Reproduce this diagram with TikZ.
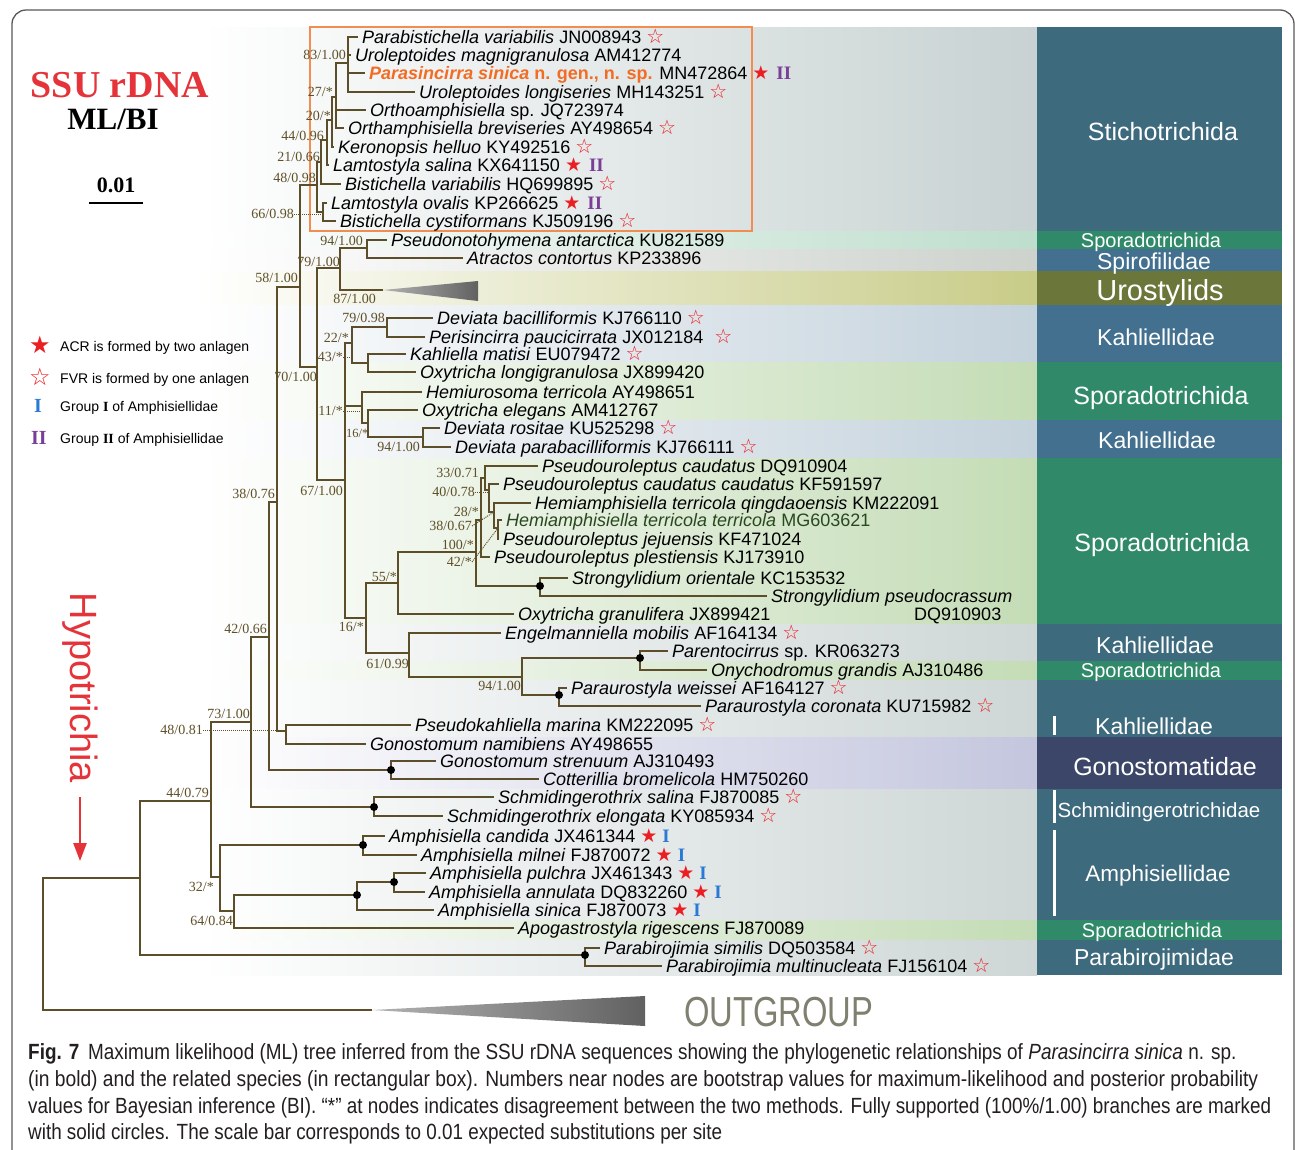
\documentclass[tikz,border=0pt]{standalone}
\usepackage{fontspec}
\setmainfont{Liberation Sans}
\newfontfamily\seriff{Liberation Serif}
\newfontfamily\djv{DejaVu Sans}
\newfontfamily\condf[FakeStretch=0.78]{Liberation Sans}
\usetikzlibrary{arrows.meta}
\definecolor{brc}{RGB}{92,78,40}
\definecolor{supc}{RGB}{95,80,40}
\definecolor{starred}{RGB}{235,30,35}
\definecolor{ssured}{RGB}{228,52,58}
\definecolor{orng}{RGB}{243,108,36}
\definecolor{boxor}{RGB}{242,140,80}
\definecolor{purp}{RGB}{122,62,152}
\definecolor{blu}{RGB}{40,122,212}
\definecolor{hgreen}{RGB}{40,72,30}
\definecolor{bSt}{RGB}{62,106,126}
\definecolor{bSp}{RGB}{48,138,106}
\definecolor{bKa}{RGB}{66,112,142}
\definecolor{bUro}{RGB}{106,118,58}
\definecolor{bGon}{RGB}{60,70,104}
\definecolor{tSt}{RGB}{200,210,210}
\definecolor{tSpS}{RGB}{190,222,205}
\definecolor{tSpi}{RGB}{205,210,205}
\definecolor{tUro}{RGB}{200,204,136}
\definecolor{tKa}{RGB}{196,210,220}
\definecolor{tSpo}{RGB}{196,220,182}
\definecolor{tGon}{RGB}{196,198,222}
\definecolor{tGen}{RGB}{206,214,214}
\definecolor{capc}{RGB}{35,31,32}
\definecolor{ogc}{RGB}{128,128,112}
\newcommand{\hst}{\hspace{5pt}{\djv\fontsize{20}{20}\selectfont\textcolor{starred}{☆}}}
\newcommand{\fst}{\hspace{5pt}{\djv\fontsize{19}{19}\selectfont\textcolor{starred}{★}}}
\newcommand{\gtwo}{\hspace{7pt}{\seriff\bfseries\fontsize{19}{19}\selectfont\textcolor{purp}{II}}}
\newcommand{\gone}{\hspace{5pt}{\seriff\bfseries\fontsize{19}{19}\selectfont\textcolor{blu}{I}}}
\begin{document}
\begin{tikzpicture}[x=1pt,y=-1pt,
  tip/.style={anchor=west, inner sep=0pt, font=\fontsize{18}{20}\selectfont, text height=13pt, text depth=0pt},
  sup/.style={anchor=east, inner sep=0pt, font=\seriff\fontsize{14}{14}\selectfont, text=supc, text height=9pt, text depth=0pt},
  br/.style={draw=brc, line width=1.9pt},
  dotlab/.style={draw=supc, densely dotted, line width=1pt},
  dotn/.style={fill=black, circle, inner sep=0pt, minimum size=8pt},
  pan/.style={anchor=base, inner sep=0pt, text=white},
  leg/.style={anchor=base west, inner sep=0pt, font=\fontsize{14}{14}\selectfont},
  capl/.style={anchor=base west, inner sep=0pt, text=capc, font=\condf\fontsize{22}{22}\selectfont}]
\useasboundingbox (0,0) rectangle (1295,1149);
\fill[white] (0,0) rectangle (1295,1149);
% frame
\draw[line width=1.3pt, black!65, rounded corners=14pt] (12,1175) -- (12,10) -- (1294,10) -- (1294,1175);
% background bands
\foreach \ya/\yb/\c in {27/231/tSt,231/249/tSpS,249/271/tSpi,271/305/tUro,305/362/tKa,362/420/tSpo,420/458/tKa,458/624/tSpo,624/661/tGen,661/680/tSpo,680/737/tGen,737/789/tGon,789/920/tGen,920/940/tSpo,940/975/tGen}
  {\shade[left color=white, right color=\c] (200,\ya) rectangle (1037,\yb);}
\foreach \ya/\yb/\c in {27/231/bSt,231/249/bSp,249/271/bKa,271/305/bUro,305/362/bKa,362/420/bSp,420/458/bKa,458/624/bSp,624/661/bSt,661/680/bSp,680/737/bSt,737/789/bGon,789/920/bSt,920/940/bSp,940/975/bSt}
  {\fill[\c] (1037,\ya) rectangle (1282,\yb);}
\fill[white] (1053,716) rectangle (1056,735);
\fill[white] (1053,790) rectangle (1056,823);
\fill[white] (1053,830) rectangle (1056,916);
% panel labels
\node[pan, font=\fontsize{25}{25}\selectfont] (p1) at (1163,140) {Stichotrichida};
\node[pan, font=\fontsize{20}{20}\selectfont] (p2) at (1151,247) {Sporadotrichida};
\node[pan, font=\fontsize{23}{23}\selectfont] (p3) at (1154,269) {Spirofilidae};
\node[pan, font=\fontsize{29}{29}\selectfont] (p4) at (1160,300) {Urostylids};
\node[pan, font=\fontsize{23}{23}\selectfont] (p5) at (1156,345) {Kahliellidae};
\node[pan, font=\fontsize{25}{25}\selectfont] (p6) at (1161,404) {Sporadotrichida};
\node[pan, font=\fontsize{23}{23}\selectfont] (p7) at (1157,448) {Kahliellidae};
\node[pan, font=\fontsize{25}{25}\selectfont] (p8) at (1162,551) {Sporadotrichida};
\node[pan, font=\fontsize{23}{23}\selectfont] (p9) at (1155,653) {Kahliellidae};
\node[pan, font=\fontsize{20}{20}\selectfont] (p10) at (1151,677) {Sporadotrichida};
\node[pan, font=\fontsize{23}{23}\selectfont] (p11) at (1154,734) {Kahliellidae};
\node[pan, font=\fontsize{25}{25}\selectfont] (p12) at (1165,775) {Gonostomatidae};
\node[pan, font=\fontsize{20.5}{21}\selectfont] (p13) at (1159,817) {Schmidingerotrichidae};
\node[pan, font=\fontsize{22.5}{23}\selectfont] (p14) at (1158,881) {Amphisiellidae};
\node[pan, font=\fontsize{20}{20}\selectfont] (p15) at (1152,937) {Sporadotrichida};
\node[pan, font=\fontsize{23}{23}\selectfont] (p16) at (1154,965) {Parabirojimidae};
% orange box
\draw[boxor, line width=1.5pt] (310,27) rectangle (752,231);
% title and legend
\node[anchor=base, inner sep=0pt, text=ssured, font=\seriff\bfseries\fontsize{38}{38}\selectfont] (ttl) at (120,97.5) {SSU rDNA};
\node[anchor=base, inner sep=0pt, font=\seriff\bfseries\fontsize{31}{31}\selectfont] (mlbi) at (113,129) {ML/BI};
\node[anchor=base, inner sep=0pt, font=\seriff\bfseries\fontsize{22}{22}\selectfont] (sc) at (116,192.5) {0.01};
\coordinate (sbA) at (89,203); \coordinate (sbB) at (143,203);
\draw[line width=2.5pt] (sbA) -- (sbB);
\node[inner sep=0pt, text=starred, font=\djv\fontsize{24}{24}\selectfont] (lg1) at (40,345) {★};
\node[inner sep=0pt, text=starred, font=\djv\fontsize{24}{24}\selectfont] (lg2) at (40,377) {☆};
\node[inner sep=0pt, text=blu, font=\seriff\bfseries\fontsize{20}{20}\selectfont] (lg3) at (38,406) {I};
\node[inner sep=0pt, text=purp, font=\seriff\bfseries\fontsize{20}{20}\selectfont] (lg4) at (39,438) {II};
\node[leg] (lt1) at (60,351) {ACR is formed by two anlagen};
\node[leg] (lt2) at (60,383) {FVR is formed by one anlagen};
\node[leg] (lt3) at (60,411) {Group {\seriff\bfseries I} of Amphisiellidae};
\node[leg] (lt4) at (60,443) {Group {\seriff\bfseries II} of Amphisiellidae};
% Hypotrichia
\node[rotate=-90, inner sep=0pt, text=ssured, font=\fontsize{38}{38}\selectfont] (hypo) at (80,688) {Hypotrichia};
\coordinate (arA) at (80,797); \coordinate (arB) at (80,861);
\draw[ssured, line width=2.5pt, -{Triangle[length=18pt,width=13pt]}] (arA) -- (arB);
% tips
\node[tip] (t1) at (362,37) {\textit{Parabistichella variabilis} JN008943\hst};
\node[tip] (t2) at (355,55) {\textit{Uroleptoides magnigranulosa} AM412774};
\node[tip] (t3) at (369,73) {{\color{orng}\bfseries\itshape Parasincirra sinica} {\color{orng}\bfseries n. gen., n. sp.} MN472864\fst\gtwo};
\node[tip] (t4) at (419,92) {\textit{Uroleptoides longiseries} MH143251\hst};
\node[tip] (t5) at (370,110) {\textit{Orthoamphisiella} sp. JQ723974};
\node[tip] (t6) at (348,128) {\textit{Orthamphisiella breviseries} AY498654\hst};
\node[tip] (t7) at (338,147) {\textit{Keronopsis helluo} KY492516\hst};
\node[tip] (t8) at (333,165) {\textit{Lamtostyla salina} KX641150\fst\gtwo};
\node[tip] (t9) at (345,184) {\textit{Bistichella variabilis} HQ699895\hst};
\node[tip] (t10) at (331,203) {\textit{Lamtostyla ovalis} KP266625\fst\gtwo};
\node[tip] (t11) at (340,221) {\textit{Bistichella cystiformans} KJ509196\hst};
\node[tip] (t12) at (391,240) {\textit{Pseudonotohymena antarctica} KU821589};
\node[tip] (t13) at (467,258) {\textit{Atractos contortus} KP233896};
\node[tip] (t14) at (437,318) {\textit{Deviata bacilliformis} KJ766110\hst};
\node[tip] (t15) at (429,337) {\textit{Perisincirra paucicirrata} JX012184\hspace{6pt}\hst};
\node[tip] (t16) at (410,354) {\textit{Kahliella matisi} EU079472\hst};
\node[tip] (t17) at (420,372) {\textit{Oxytricha longigranulosa} JX899420};
\node[tip] (t18) at (426,392) {\textit{Hemiurosoma terricola} AY498651};
\node[tip] (t19) at (422,410) {\textit{Oxytricha elegans} AM412767};
\node[tip] (t20) at (444,428) {\textit{Deviata rositae} KU525298\hst};
\node[tip] (t21) at (455,447) {\textit{Deviata parabacilliformis} KJ766111\hst};
\node[tip] (t22) at (542,466) {\textit{Pseudouroleptus caudatus} DQ910904};
\node[tip] (t23) at (503,484) {\textit{Pseudouroleptus caudatus caudatus} KF591597};
\node[tip] (t24) at (535,503) {\textit{Hemiamphisiella terricola qingdaoensis} KM222091};
\node[tip] (t25) at (506,520) {{\color{hgreen}\textit{Hemiamphisiella terricola terricola} MG603621}};
\node[tip] (t26) at (503,539) {\textit{Pseudouroleptus jejuensis} KF471024};
\node[tip] (t27) at (494,557) {\textit{Pseudouroleptus plestiensis} KJ173910};
\node[tip] (t28) at (572,578) {\textit{Strongylidium orientale} KC153532};
\node[tip] (t29) at (771,596) {\textit{Strongylidium pseudocrassum}};
\node[tip] (dq) at (914,614) {DQ910903};
\node[tip] (t30) at (518,614) {\textit{Oxytricha granulifera} JX899421};
\node[tip] (t31) at (505,633) {\textit{Engelmanniella mobilis} AF164134\hst};
\node[tip] (t32) at (672,651) {\textit{Parentocirrus} sp. KR063273};
\node[tip] (t33) at (711,670) {\textit{Onychodromus grandis} AJ310486};
\node[tip] (t34) at (571,688) {\textit{Paraurostyla weissei} AF164127\hst};
\node[tip] (t35) at (705,706) {\textit{Paraurostyla coronata} KU715982\hst};
\node[tip] (t36) at (415,725) {\textit{Pseudokahliella marina} KM222095\hst};
\node[tip] (t37) at (370,744) {\textit{Gonostomum namibiens} AY498655};
\node[tip] (t38) at (440,761) {\textit{Gonostomum strenuum} AJ310493};
\node[tip] (t39) at (543,779) {\textit{Cotterillia bromelicola} HM750260};
\node[tip] (t40) at (498,797) {\textit{Schmidingerothrix salina} FJ870085\hst};
\node[tip] (t41) at (447,816) {\textit{Schmidingerothrix elongata} KY085934\hst};
\node[tip] (t42) at (389,836) {\textit{Amphisiella candida} JX461344\fst\gone};
\node[tip] (t43) at (421,855) {\textit{Amphisiella milnei} FJ870072\fst\gone};
\node[tip] (t44) at (430,873) {\textit{Amphisiella pulchra} JX461343\fst\gone};
\node[tip] (t45) at (429,892) {\textit{Amphisiella annulata} DQ832260\fst\gone};
\node[tip] (t46) at (438,910) {\textit{Amphisiella sinica} FJ870073\fst\gone};
\node[tip] (t47) at (518,928) {\textit{Apogastrostyla rigescens} FJ870089};
\node[tip] (t48) at (604,948) {\textit{Parabirojimia similis} DQ503584\hst};
\node[tip] (t49) at (666,966) {\textit{Parabirojimia multinucleata} FJ156104\hst};
% internal nodes
\coordinate (n83) at (348,63);
\coordinate (n27) at (336,97);
\coordinate (n20) at (332,120);
\coordinate (n44) at (327,140);
\coordinate (n21) at (321,162);
\coordinate (n66) at (323,212);
\coordinate (n48) at (317,185);
\coordinate (n94a) at (367,248);
\coordinate (uro) at (383,290);
\coordinate (n79) at (340,268);
\coordinate (n79b) at (387,327);
\coordinate (nKO) at (368,363);
\coordinate (n22) at (352,343);
\coordinate (n94c) at (423,437);
\coordinate (n16b) at (368,423);
\coordinate (n11) at (362,406);
\coordinate (n33) at (485,478);
\coordinate (n40) at (489,490);
\coordinate (nq) at (494,512);
\coordinate (nt) at (498,528);
\coordinate (n28) at (481,520);
\coordinate (nS) at (540,586);
\coordinate (n100) at (476,552);
\coordinate (n55) at (398,583);
\coordinate (nPar) at (640,658);
\coordinate (nPau) at (559,695);
\coordinate (n94b) at (522,677);
\coordinate (n61) at (409,653);
\coordinate (n16) at (366,618);
\coordinate (n67) at (345,480);
\coordinate (n70) at (317,367);
\coordinate (n58) at (300,287);
\coordinate (n4881) at (286,731);
\coordinate (n38) at (277,502);
\coordinate (nGC) at (391,770);
\coordinate (n42) at (269,637);
\coordinate (nSch) at (374,807);
\coordinate (n73) at (251,722);
\coordinate (nCM) at (363,845);
\coordinate (nPA) at (394,882);
\coordinate (nPAS) at (357,895);
\coordinate (n64) at (234,911);
\coordinate (n32) at (220,877);
\coordinate (n4479) at (211,801);
\coordinate (nPB) at (585,955);
\coordinate (nB) at (140,878);
\coordinate (root) at (43,944);
\coordinate (og) at (372,1010);
% triangles
\shade[left color=black!30, right color=black!62] (uro) -- (478,281) -- (478,301) -- cycle;
\shade[left color=black!30, right color=black!62] (og) -- (645,996) -- (645,1026) -- cycle;
\node[anchor=west, inner sep=0pt, text=ogc, font=\condf\fontsize{42}{42}\selectfont] (ogt) at (684,1012) {OUTGROUP};
% branches
\foreach \p/\c in {n83/t1,n83/t2,n83/t3,n83/t4,n27/t5,n27/t6,n20/t7,n44/t8,n21/t9,n66/t10,n66/t11,
  n94a/t12,n94a/t13,n79b/t14,n79b/t15,nKO/t16,nKO/t17,n11/t18,n16b/t19,n94c/t20,n94c/t21,
  n33/t22,n40/t23,nq/t24,nt/t25,nt/t26,n28/t27,nS/t28,nS/t29,n55/t30,n61/t31,nPar/t32,nPar/t33,
  nPau/t34,nPau/t35,n4881/t36,n4881/t37,nGC/t38,nGC/t39,nSch/t40,nSch/t41,nCM/t42,nCM/t43,
  nPA/t44,nPA/t45,nPAS/t46,n64/t47,nPB/t48,nPB/t49}
  {\draw[br] (\p) |- ([xshift=-4pt]\c.west);}
\foreach \p/\c in {n27/n83,n20/n27,n44/n20,n21/n44,n48/n21,n48/n66,n58/n48,n58/n70,n79/n94a,n79/uro,
  n70/n79,n70/n67,n22/n79b,n22/nKO,n16b/n94c,n11/n16b,n67/n22,n67/n11,n67/n16,n33/n40,n40/nq,nq/nt,
  n28/n33,n100/n28,n100/nS,n55/n100,n94b/nPar,n94b/nPau,n61/n94b,n16/n55,n16/n61,n38/n58,n38/n4881,
  n42/n38,n42/nGC,n73/n42,n73/nSch,nPAS/nPA,n64/nPAS,n32/nCM,n32/n64,n4479/n73,n4479/n32,nB/n4479,
  nB/nPB,root/nB,root/og}
  {\draw[br] (\p) |- (\c);}
% solid circles
\foreach \d in {nS,nPar,nPau,nGC,nSch,nCM,nPA,nPAS,nPB}
  {\node[dotn] at (\d) {};}
% support values
\node[sup] (l83) at (346,55) {83/1.00};
\node[sup] (l27) at (333,92) {27/*};
\node[sup] (l20) at (331,116) {20/*};
\node[sup] (l44) at (324,136) {44/0.96};
\node[sup] (l21) at (320,157) {21/0.66};
\node[sup] (l48) at (316,178) {48/0.98};
\node[sup] (l66) at (294,214) {66/0.98};
\draw[dotlab] (l66.east) -- (n66 |- l66.east);
\node[sup] (l94a) at (363,241) {94/1.00};
\node[sup] (l79) at (340,262) {79/1.00};
\node[sup] (l58) at (298,278) {58/1.00};
\node[sup] (l87) at (376,299) {87/1.00};
\node[sup] (l7998) at (385,318) {79/0.98};
\node[sup] (l22) at (349,338) {22/*};
\node[sup] (l43) at (343,357) {43/*};
\draw[dotlab] (l43.east) -- (n22 |- l43.east);
\node[sup] (l70) at (317,377) {70/1.00};
\node[sup] (l11) at (343,411) {11/*};
\draw[dotlab] (l11.east) -- (n11 |- l11.east);
\node[sup, font=\seriff\fontsize{12.5}{13}\selectfont] (l16b) at (368.5,433) {16/*};
\node[sup] (l94c) at (420,447) {94/1.00};
\node[sup] (l33) at (479,473) {33/0.71};
\node[sup] (l40) at (475,492) {40/0.78};
\draw[dotlab] (l40.east) -- (n40 |- l40.east);
\node[sup] (l28) at (479,512) {28/*};
\node[sup] (l3867) at (472,526) {38/0.67};
\draw[dotlab] (l3867.east) -- (nq);
\node[sup] (l100) at (474,545) {100/*};
\node[sup] (l42s) at (472,562) {42/*};
\draw[dotlab] (l42s.east) -- (nt);
\node[sup] (l3876) at (275,494) {38/0.76};
\node[sup] (l67) at (343,491) {67/1.00};
\node[sup] (l55) at (397,577) {55/*};
\node[sup] (l16) at (364,627) {16/*};
\node[sup] (l4266) at (267,629) {42/0.66};
\node[sup] (l61) at (409,664) {61/0.99};
\node[sup] (l94b) at (521,686) {94/1.00};
\node[sup] (l73) at (250,714) {73/1.00};
\node[sup] (l4881) at (203,730) {48/0.81};
\draw[dotlab] (l4881.east) -- (n38 |- l4881.east);
\node[sup] (l4479) at (209,793) {44/0.79};
\node[sup] (l32) at (214,887) {32/*};
\node[sup] (l64) at (233,921) {64/0.84};
% caption
\node[capl] (c1) at (28,1059) {\resizebox{1208pt}{\height}{{\bfseries Fig. 7}\hspace{8pt}Maximum likelihood (ML) tree inferred from the SSU rDNA sequences showing the phylogenetic relationships of \textit{Parasincirra sinica} n. sp.}};
\node[capl] (c2) at (28,1086) {\resizebox{1230pt}{\height}{(in bold) and the related species (in rectangular box). Numbers near nodes are bootstrap values for maximum-likelihood and posterior probability}};
\node[capl] (c3) at (28,1113) {\resizebox{1243pt}{\height}{values for Bayesian inference (BI). “*” at nodes indicates disagreement between the two methods. Fully supported (100\%/1.00) branches are marked}};
\node[capl] (c4) at (28,1139) {\resizebox{694pt}{\height}{with solid circles. The scale bar corresponds to 0.01 expected substitutions per site}};
\end{tikzpicture}
\end{document}
